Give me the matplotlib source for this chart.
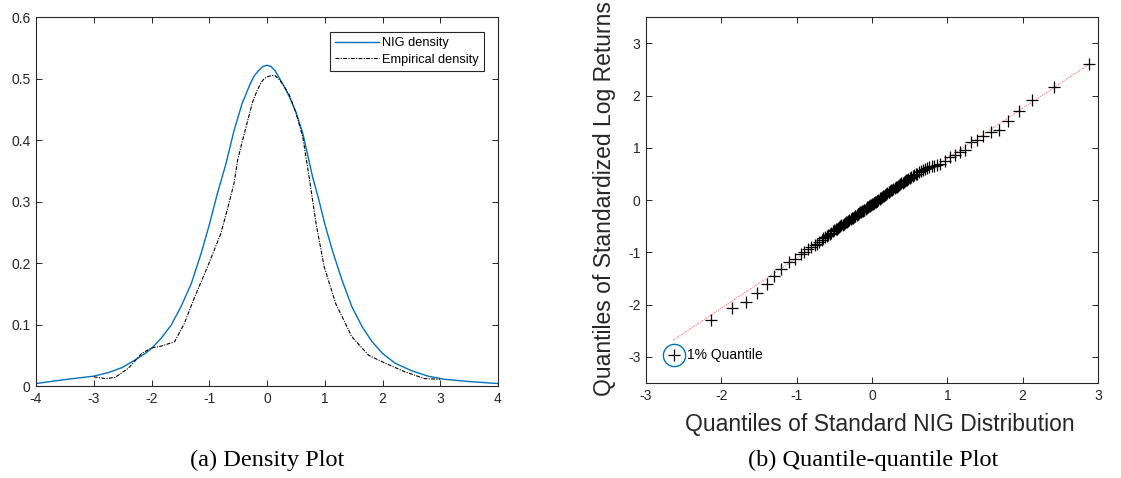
import matplotlib
matplotlib.use("Agg")
import matplotlib.pyplot as plt

plt.rcParams["axes.unicode_minus"] = False

# ---------------- data ----------------
# (a) density plot
nig_x = [-4.0, -3.54, -3.0, -2.74, -2.51, -2.29, -2.11, -2.0, -1.83, -1.66, -1.49, -1.31,
         -1.14, -1.0, -0.86, -0.71, -0.57, -0.43, -0.29, -0.22, -0.14, -0.07, 0.0, 0.07,
         0.14, 0.22, 0.30, 0.39, 0.50, 0.62, 0.70, 0.79, 0.90, 1.0, 1.13, 1.30, 1.47,
         1.65, 1.82, 2.0, 2.22, 2.5, 2.79, 3.07, 3.53, 4.0]
nig_y = [0.004, 0.010, 0.016, 0.022, 0.030, 0.042, 0.053, 0.061, 0.078, 0.099, 0.129, 0.167,
         0.216, 0.262, 0.313, 0.362, 0.416, 0.460, 0.492, 0.505, 0.514, 0.520, 0.522, 0.520,
         0.513, 0.500, 0.487, 0.470, 0.446, 0.411, 0.378, 0.340, 0.302, 0.264, 0.221, 0.172,
         0.129, 0.096, 0.072, 0.053, 0.037, 0.025, 0.016, 0.011, 0.007, 0.004]

emp_x = [-3.0, -2.8, -2.63, -2.4, -2.17, -2.0, -1.83, -1.6, -1.43, -1.26, -1.03, -0.8,
         -0.69, -0.57, -0.51, -0.45, -0.34, -0.25, -0.17, -0.10, -0.05, 0.0, 0.07, 0.14,
         0.22, 0.30, 0.39, 0.50, 0.62, 0.73, 0.85, 0.99, 1.19, 1.47, 1.76, 2.05, 2.39,
         2.73, 3.0]
emp_y = [0.015, 0.012, 0.014, 0.029, 0.053, 0.062, 0.065, 0.072, 0.102, 0.143, 0.194, 0.248,
         0.286, 0.330, 0.367, 0.390, 0.430, 0.462, 0.481, 0.494, 0.500, 0.503, 0.505, 0.505,
         0.498, 0.487, 0.473, 0.445, 0.405, 0.340, 0.264, 0.194, 0.134, 0.080, 0.050, 0.037,
         0.023, 0.012, 0.011]

density_xticks = [-4, -3, -2, -1, 0, 1, 2, 3, 4]
density_yticks = [0, 0.1, 0.2, 0.3, 0.4, 0.5, 0.6]
density_yticklabels = ["0", "0.1", "0.2", "0.3", "0.4", "0.5", "0.6"]

# (b) quantile-quantile plot
qq_x = [-2.63, -2.14, -1.86, -1.67, -1.53, -1.40, -1.30, -1.21, -1.10, -1.02,
        -0.94, -0.90, -0.85, -0.81, -0.76, -0.73, -0.70, -0.67, -0.65, -0.62,
        -0.60, -0.58, -0.56, -0.54, -0.52, -0.50, -0.48, -0.465, -0.45, -0.435,
        -0.42, -0.405, -0.39, -0.375, -0.36, -0.345, -0.33, -0.315, -0.30, -0.285,
        -0.27, -0.255, -0.24, -0.23, -0.22, -0.205, -0.19, -0.18, -0.17, -0.155,
        -0.14, -0.13, -0.12, -0.11, -0.10, -0.085, -0.07, -0.06, -0.05, -0.04,
        -0.03, -0.02, -0.01, 0.00, 0.01, 0.02, 0.03, 0.04, 0.05, 0.06,
        0.07, 0.085, 0.10, 0.11, 0.12, 0.13, 0.14, 0.155, 0.17, 0.18,
        0.19, 0.205, 0.22, 0.23, 0.24, 0.255, 0.27, 0.285, 0.30, 0.315,
        0.33, 0.345, 0.36, 0.375, 0.39, 0.405, 0.42, 0.435, 0.45, 0.465,
        0.48, 0.50, 0.52, 0.54, 0.56, 0.58, 0.60, 0.625, 0.65, 0.675,
        0.70, 0.73, 0.76, 0.79, 0.82, 0.86, 0.90, 0.97, 1.03, 1.10,
        1.17, 1.24, 1.32, 1.39, 1.48, 1.58, 1.68, 1.80, 1.95, 2.12,
        2.41, 2.88]
qq_y = [-2.97, -2.30, -2.06, -1.95, -1.77, -1.61, -1.45, -1.32, -1.19, -1.12,
        -1.03, -0.99, -0.94, -0.90, -0.86, -0.83, -0.80, -0.76, -0.73, -0.70,
        -0.68, -0.66, -0.64, -0.62, -0.60, -0.58, -0.56, -0.545, -0.53, -0.515,
        -0.50, -0.485, -0.47, -0.455, -0.44, -0.425, -0.41, -0.395, -0.38, -0.365,
        -0.35, -0.335, -0.32, -0.31, -0.30, -0.285, -0.27, -0.26, -0.25, -0.235,
        -0.22, -0.21, -0.20, -0.19, -0.18, -0.165, -0.15, -0.14, -0.13, -0.12,
        -0.11, -0.10, -0.09, -0.08, -0.07, -0.06, -0.05, -0.04, -0.03, -0.02,
        -0.01, 0.005, 0.02, 0.035, 0.05, 0.06, 0.07, 0.085, 0.10, 0.11,
        0.12, 0.135, 0.15, 0.16, 0.17, 0.185, 0.20, 0.215, 0.23, 0.245,
        0.26, 0.275, 0.29, 0.305, 0.32, 0.335, 0.35, 0.365, 0.38, 0.395,
        0.41, 0.425, 0.44, 0.46, 0.48, 0.495, 0.51, 0.53, 0.55, 0.57,
        0.59, 0.61, 0.63, 0.645, 0.66, 0.675, 0.69, 0.75, 0.82, 0.86,
        0.92, 0.96, 1.12, 1.16, 1.23, 1.31, 1.35, 1.51, 1.70, 1.91,
        2.16, 2.60]
ref_x = [-2.64, 2.88]
ref_y = [-2.68, 2.60]
quantile_1pct = (-2.63, -2.97)

qq_ticks = [-3, -2, -1, 0, 1, 2, 3]

# ---------------- style ----------------
W, H = 1121, 478
fig = plt.figure(figsize=(W / 100, H / 100), dpi=100)
sans = ["Liberation Sans", "DejaVu Sans"]
serif = ["Liberation Serif", "DejaVu Serif"]
axcol = "#262626"
blue = "#0072BD"


def style(ax):
    ax.tick_params(direction="in", top=True, right=True, length=4.5, width=0.7,
                   colors=axcol, labelsize=10, pad=4)
    for lab in ax.get_xticklabels() + ax.get_yticklabels():
        lab.set_fontfamily(sans)
    for s in ax.spines.values():
        s.set_color(axcol)
        s.set_linewidth(0.8)


# (a)
ax1 = fig.add_axes([36 / W, (H - 386) / H, 462 / W, 368.7 / H])
ax1.plot(nig_x, nig_y, color=blue, lw=1.0, label="NIG density")
ax1.plot(emp_x, emp_y, color="black", lw=0.8, dashes=(3.5, 1.2, 1.0, 1.2),
         label="Empirical density")
ax1.set_xlim(-4, 4)
ax1.set_ylim(0, 0.6)
ax1.set_xticks(density_xticks)
ax1.set_yticks(density_yticks)
ax1.set_yticklabels(density_yticklabels)
style(ax1)
leg = ax1.legend(loc="upper right", bbox_to_anchor=(0.970, 0.960), borderaxespad=0,
                 fancybox=False, framealpha=1, edgecolor=axcol,
                 prop={"family": sans, "size": 9.2},
                 handlelength=3.4, handletextpad=0.3, borderpad=0.4, labelspacing=0.35)
leg.get_frame().set_linewidth(0.8)

# (b)
ax2 = fig.add_axes([646 / W, (H - 383) / H, 452 / W, 365.7 / H])
ax2.plot(ref_x, ref_y, color="#ff6060", lw=0.7, ls=(0, (2, 1, 1, 1)), alpha=0.8)
ax2.plot(qq_x, qq_y, ls="none", marker="+", color="black", ms=8, mew=0.9)
ax2.plot([quantile_1pct[0]], [quantile_1pct[1]], ls="none", marker="o", ms=16,
         mfc="none", mec=blue, mew=1.0)
ax2.text(quantile_1pct[0] + 0.17, quantile_1pct[1], "1% Quantile", va="center",
         ha="left", fontsize=10, family=sans, color="black")
ax2.set_xlim(-3, 3)
ax2.set_ylim(-3.5, 3.5)
ax2.set_xticks(qq_ticks)
ax2.set_yticks(qq_ticks)
style(ax2)

fig.text(880 / W, (H - 425) / H, "Quantiles of Standard NIG Distribution",
         ha="center", va="center", fontsize=16.5, family=sans, color=axcol)
fig.text(604 / W, (H - 199) / H, "Quantiles of Standardized Log Returns",
         ha="center", va="center", rotation=90, fontsize=16.5, family=sans, color=axcol)

fig.text(267 / W, (H - 460) / H, "(a) Density Plot", ha="center", va="center",
         fontsize=17.5, family=serif, color="black")
fig.text(873 / W, (H - 460) / H, "(b) Quantile-quantile Plot", ha="center", va="center",
         fontsize=17.5, family=serif, color="black")

fig.savefig("out.png", dpi=100)
